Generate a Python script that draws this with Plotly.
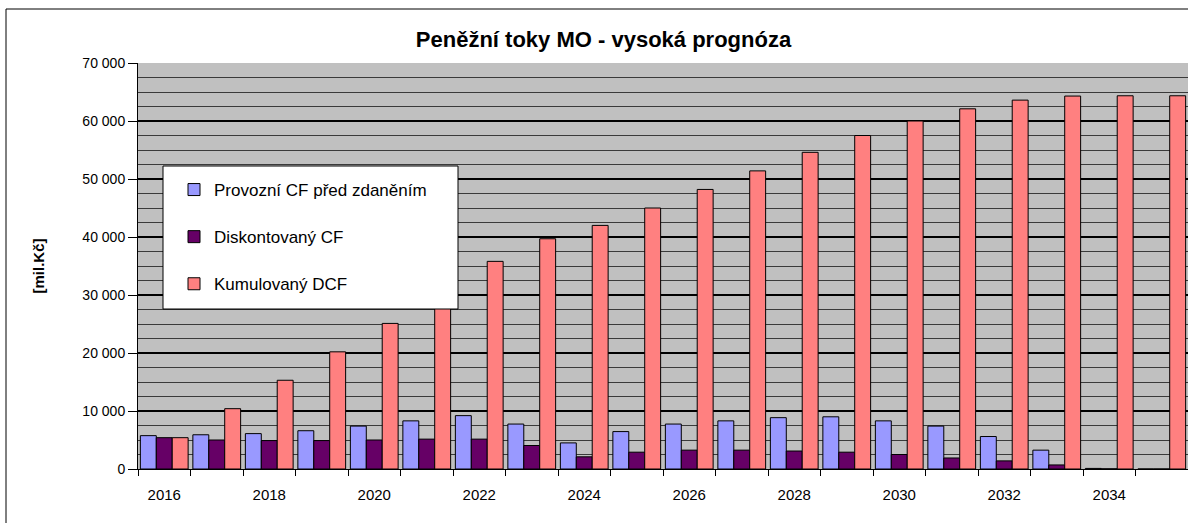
import plotly.graph_objects as go

years = list(range(2016, 2036))
provozni_cf = [5750, 5900, 6100, 6600, 7400, 8300, 9200, 7750, 4500, 6450,
               7750, 8300, 8850, 9000, 8300, 7400, 5600, 3250, 100, 0]
diskont_cf = [5400, 5000, 4900, 4900, 5000, 5150, 5150, 4050, 2100, 2900,
              3250, 3250, 3100, 2900, 2500, 1900, 1400, 700, 30, 0]
kumul_dcf = [5400, 10400, 15300, 20200, 25100, 30300, 35800, 39700, 42000, 45000,
             48200, 51400, 54600, 57500, 60000, 62100, 63600, 64300, 64350, 64350]
series_names = ["Provozní CF před zdaněním", "Diskontovaný CF", "Kumulovaný DCF"]
series_colors = ["#9999FF", "#660066", "#FF8080"]
x_labels = [str(y) for y in years if y % 2 == 0]
y_ticks = list(range(0, 70001, 10000))

FONT = "Arial, Liberation Sans, sans-serif"

fig = go.Figure()
for i, (name, vals, col) in enumerate(zip(series_names, [provozni_cf, diskont_cf, kumul_dcf], series_colors)):
    fig.add_trace(go.Bar(
        x=years, y=vals, name=name, legendgroup=f"g{i}",
        marker=dict(color=col, line=dict(color="#000000", width=1)),
    ))

boundaries = [y - 0.5 for y in years] + [years[-1] + 0.5]

fig.update_layout(
    width=1188, height=523,
    margin=dict(l=138, r=0, t=63, b=54),
    paper_bgcolor="white",
    plot_bgcolor="#C0C0C0",
    separators=", ",
    barmode="group",
    bargap=0.09,
    bargroupgap=0,
    font=dict(family=FONT, color="black"),
    title=dict(text="<b>Peněžní toky MO - vysoká prognóza</b>",
               font=dict(size=22, family=FONT, color="black"),
               x=0.508, xref="container", xanchor="center",
               y=1 - 39 / 523, yref="container", yanchor="middle"),
    legend=dict(
        x=(174 - 138) / 1050, y=(469 - 172) / 406, xanchor="left", yanchor="top",
        bgcolor="rgba(0,0,0,0)", borderwidth=0,
        font=dict(size=17, family=FONT, color="black"),
        tracegroupgap=22,
    ),
    showlegend=True,
)

fig.update_xaxes(
    range=[years[0] - 0.5, years[-1] + 0.5],
    tickvals=[int(s) for s in x_labels], ticktext=x_labels,
    ticks="", ticklabelstandoff=12,
    tickfont=dict(size=15, family=FONT, color="black"),
    showline=True, linecolor="black", linewidth=1,
    showgrid=False, zeroline=False,
    minor=dict(tickvals=boundaries, ticks="outside", ticklen=6, tickcolor="black", tickwidth=1, showgrid=False),
)
fig.update_yaxes(
    range=[0, 70000],
    tickvals=y_ticks, tickformat=",.0f",
    ticks="outside", ticklen=9, tickcolor="black", tickwidth=1,
    tickfont=dict(size=14, family=FONT, color="black"),
    showline=True, linecolor="black", linewidth=1,
    showgrid=True, gridcolor="black", gridwidth=2,
    zeroline=False,
    minor=dict(dtick=2500, showgrid=True, gridcolor="#3a3a3a", gridwidth=1, ticks=""),
    title=dict(text="<b>[mil.Kč]</b>", font=dict(size=15, family=FONT, color="black"), standoff=34),
)

# legend box
fig.add_shape(type="rect", xref="paper", yref="paper",
              x0=(163 - 138) / 1050, x1=(458 - 138) / 1050,
              y0=(469 - 309) / 406, y1=(469 - 166) / 406,
              fillcolor="white", line=dict(color="black", width=1), layer="above")
# chart outer border
fig.add_shape(type="rect", xref="paper", yref="paper",
              x0=(6 - 138) / 1050, x1=(1200 - 138) / 1050,
              y0=(469 - 540) / 406, y1=(469 - 9) / 406,
              fillcolor="rgba(0,0,0,0)", line=dict(color="black", width=1), layer="above")

fig.write_html("out.html",
               config={"displayModeBar": False},
               post_script="document.body.style.margin='0';document.body.style.overflow='hidden';")
